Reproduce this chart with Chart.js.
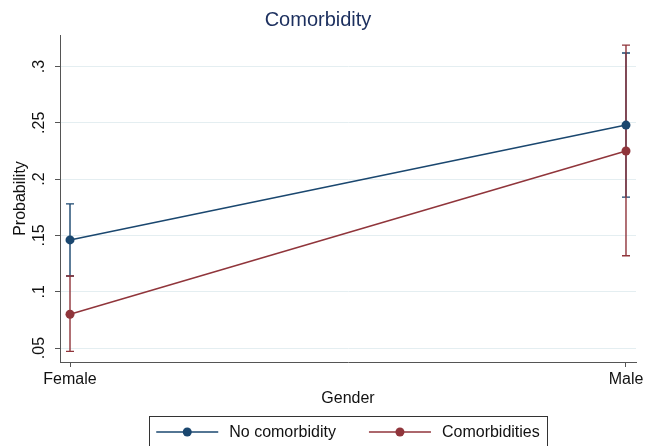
<!DOCTYPE html>
<html>
<head>
<meta charset="utf-8">
<script src="https://cdn.jsdelivr.net/npm/chart.js@4"></script>
<style>
  html, body { margin: 0; padding: 0; background: #fff; }
  #wrap { width: 648px; height: 446px; }
</style>
</head>
<body>
<div id="wrap"><canvas id="myChart"></canvas></div>
<script>
const categories = ['Female', 'Male'];
const noComorb = [0.146, 0.248];
const noComorbLo = [0.114, 0.184];
const noComorbHi = [0.178, 0.312];
const comorb = [0.080, 0.225];
const comorbLo = [0.047, 0.132];
const comorbHi = [0.114, 0.319];
const yTicks = [0.05, 0.1, 0.15, 0.2, 0.25, 0.3];
const yTickLabels = ['.05', '.1', '.15', '.2', '.25', '.3'];

const blue = '#1a476f';
const red = '#90353b';
const axisColor = '#555';
const font = 'Liberation Sans, Arial, sans-serif';

// vertical CI bars, drawn under the lines and points
const errorBars = {
  id: 'errorBars',
  beforeDatasetsDraw(chart) {
    const c = chart.ctx;
    const xs = chart.scales.x, ys = chart.scales.y;
    chart.data.datasets.forEach(ds => {
      c.save();
      c.strokeStyle = ds.borderColor;
      c.lineWidth = 1.4;
      ds.lo.forEach((lo, i) => {
        const x = xs.getPixelForValue(i);
        const y1 = ys.getPixelForValue(lo);
        const y2 = ys.getPixelForValue(ds.hi[i]);
        c.beginPath();
        c.moveTo(x, y1); c.lineTo(x, y2);
        c.moveTo(x - 4, y1); c.lineTo(x + 4, y1);
        c.moveTo(x - 4, y2); c.lineTo(x + 4, y2);
        c.stroke();
      });
      c.restore();
    });
  }
};

// stata style boxed legend under the axis
const boxLegend = {
  id: 'boxLegend',
  afterDraw(chart) {
    const c = chart.ctx;
    c.save();
    c.font = '16px ' + font;
    const sample = 62, gap = 11, itemGap = 33, pad = 7;
    const items = chart.data.datasets.map(ds => ({
      label: ds.label, color: ds.borderColor, w: sample + gap + c.measureText(ds.label).width
    }));
    let total = items.reduce((s, it) => s + it.w, 0) + itemGap * (items.length - 1);
    const mid = (chart.chartArea.left + chart.chartArea.right) / 2;
    const boxL = mid - total / 2 - pad;
    const top = 416, cy = 432;
    c.strokeStyle = '#333';
    c.lineWidth = 1;
    c.strokeRect(Math.round(boxL) + 0.5, top + 0.5, Math.round(total + pad * 2), 40);
    let x = mid - total / 2;
    items.forEach(it => {
      c.strokeStyle = it.color;
      c.lineWidth = 1.5;
      c.beginPath();
      c.moveTo(x, cy); c.lineTo(x + sample, cy);
      c.stroke();
      c.fillStyle = it.color;
      c.beginPath();
      c.arc(x + sample / 2, cy, 4.5, 0, Math.PI * 2);
      c.fill();
      c.fillStyle = '#111';
      c.textBaseline = 'middle';
      c.fillText(it.label, x + sample + gap, cy + 1);
      x += it.w + itemGap;
    });
    c.restore();
  }
};

const ctx = document.getElementById('myChart');

new Chart(ctx, {
  type: 'line',
  data: {
    datasets: [{
      label: 'No comorbidity',
      data: noComorb.map((v, i) => ({x: i, y: v})),
      lo: noComorbLo,
      hi: noComorbHi,
      borderColor: blue,
      backgroundColor: blue,
      borderWidth: 1.5,
      pointRadius: 4.5,
      pointBorderWidth: 0
    }, {
      label: 'Comorbidities',
      data: comorb.map((v, i) => ({x: i, y: v})),
      lo: comorbLo,
      hi: comorbHi,
      borderColor: red,
      backgroundColor: red,
      borderWidth: 1.5,
      pointRadius: 4.5,
      pointBorderWidth: 0
    }]
  },
  options: {
    responsive: true,
    maintainAspectRatio: false,
    animation: false,
    layout: {
      padding: {left: 0, right: 12, top: 0, bottom: 34}
    },
    plugins: {
      legend: {display: false},
      tooltip: {enabled: false},
      title: {
        display: true,
        text: 'Comorbidity',
        color: '#1c2f5e',
        font: {family: font, size: 20, weight: 'normal'},
        padding: {top: 8, bottom: 3}
      }
    },
    scales: {
      x: {
        type: 'linear',
        min: -0.018,
        max: 1.018,
        afterBuildTicks: s => { s.ticks = categories.map((c, i) => ({value: i})); },
        afterFit: s => { s.height = 50; },
        ticks: {
          callback: v => categories[v],
          color: '#111',
          font: {family: font, size: 16},
          padding: 3,
          maxRotation: 0
        },
        grid: {drawOnChartArea: false, tickLength: 5, tickColor: axisColor},
        border: {color: axisColor, width: 1},
        title: {
          display: true,
          text: 'Gender',
          color: '#111',
          font: {family: font, size: 16},
          padding: {top: 0, bottom: 4}
        }
      },
      y: {
        min: 0.0376,
        max: 0.328,
        afterBuildTicks: s => { s.ticks = yTicks.map(v => ({value: v})); },
        afterFit: s => { s.width = 60; },
        ticks: {
          callback: (v, i) => yTickLabels[i],
          color: '#111',
          font: {family: font, size: 16},
          padding: 4,
          minRotation: 90,
          maxRotation: 90,
          crossAlign: 'center'
        },
        grid: {color: '#e4eef1', lineWidth: 1, tickLength: 5, tickColor: axisColor},
        border: {color: axisColor, width: 1},
        title: {
          display: true,
          text: 'Probability',
          color: '#111',
          font: {family: font, size: 16},
          padding: {top: 11, bottom: 0}
        }
      }
    }
  },
  plugins: [errorBars, boxLegend]
});
</script>
</body>
</html>
